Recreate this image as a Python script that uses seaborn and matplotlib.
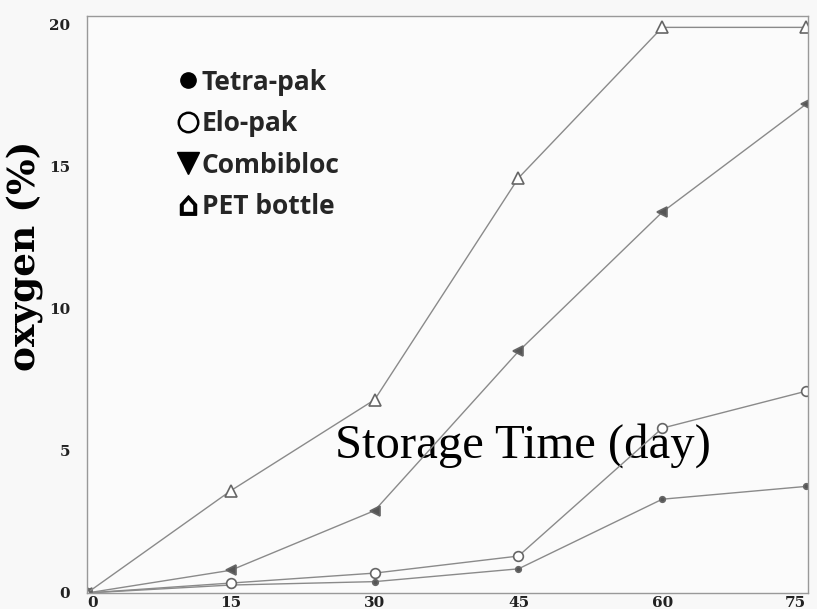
import seaborn as sns
import matplotlib.pyplot as plt
from matplotlib.lines import Line2D
import pandas as pd

days = [0, 15, 30, 45, 60, 75]
tetra_pak = [0.0, 0.28, 0.4, 0.85, 3.3, 3.75]
elo_pak = [0.0, 0.35, 0.7, 1.3, 5.8, 7.1]
combibloc = [0.0, 0.8, 2.9, 8.5, 13.4, 17.2]
pet_bottle = [0.0, 3.6, 6.8, 14.6, 19.9, 19.9]

series = ['Tetra-pak', 'Elo-pak', 'Combibloc', 'PET bottle']
x_ticks = [0, 15, 30, 45, 60, 75]
y_ticks = [0, 5, 10, 15, 20]

df = pd.DataFrame({
    'day': days * 4,
    'oxygen': tetra_pak + elo_pak + combibloc + pet_bottle,
    'pack': [s for s in series for _ in days],
})

sns.set_theme(style='white')
plt.rcParams['font.family'] = ['DejaVu Sans']

fig = plt.figure(figsize=(8.17, 6.09), dpi=100, facecolor='#f8f8f8')
ax = fig.add_axes([87 / 817, 16 / 609, 721 / 817, 577 / 609])
ax.set_facecolor('#fbfbfb')

line_col = '#8a8a8a'
plot_markers = {'Tetra-pak': 'o', 'Elo-pak': 'o', 'Combibloc': '<', 'PET bottle': '^'}
fills = {'Tetra-pak': '#555555', 'Elo-pak': 'white', 'Combibloc': '#555555', 'PET bottle': 'white'}
sizes = {'Tetra-pak': 4, 'Elo-pak': 7, 'Combibloc': 7, 'PET bottle': 8}

for s in series:
    sub = df[df['pack'] == s]
    sns.lineplot(data=sub, x='day', y='oxygen', ax=ax, color=line_col, lw=1.0,
                 marker=plot_markers[s], markersize=sizes[s],
                 markerfacecolor=fills[s], markeredgecolor='#666666',
                 markeredgewidth=1.2, legend=False)

ax.set_xlim(0, 75.2)
ax.set_ylim(0, 20.3)
ax.set_xticks(x_ticks)
ax.set_yticks(y_ticks)
ax.tick_params(length=0)
ax.tick_params(axis='y', pad=12)
ax.tick_params(axis='x', pad=2)
for lab in ax.get_xticklabels() + ax.get_yticklabels():
    lab.set_fontfamily('DejaVu Serif')
    lab.set_fontweight('bold')
    lab.set_fontsize(11)
    lab.set_color('#222222')
xlabs = ax.get_xticklabels()
xlabs[0].set_horizontalalignment('left')
xlabs[-1].set_horizontalalignment('right')

for sp in ax.spines.values():
    sp.set_color('#999999')
    sp.set_linewidth(1.0)

ax.set_ylabel('oxygen (%)', fontfamily='DejaVu Serif', fontweight='bold',
              fontsize=27, color='black')
ax.yaxis.set_label_coords(-0.06, 0.585)

ax.set_xlabel('Storage Time (day)', fontfamily='Liberation Serif',
              fontsize=35, color='black')
ax.xaxis.set_label_coords(0.604, 0.255)
ax.xaxis.label.set_va('center')

handles = [
    Line2D([], [], ls='none', marker='o', ms=11, mfc='black', mec='black'),
    Line2D([], [], ls='none', marker='o', ms=14, mfc='none', mec='black', mew=1.8),
    Line2D([], [], ls='none', marker='v', ms=16, mfc='black', mec='black'),
    Line2D([], [], ls='none', marker='$\u2302$', ms=14, mfc='black', mec='black'),
]
ax.legend(handles, series, loc='upper left', bbox_to_anchor=(0.095, 0.95),
          frameon=False, handlelength=0.7, handletextpad=0.15,
          labelspacing=0.55, prop={'family': 'Open Sans', 'weight': 'bold', 'size': 19})

fig.savefig('out.png', dpi=100, facecolor=fig.get_facecolor())
